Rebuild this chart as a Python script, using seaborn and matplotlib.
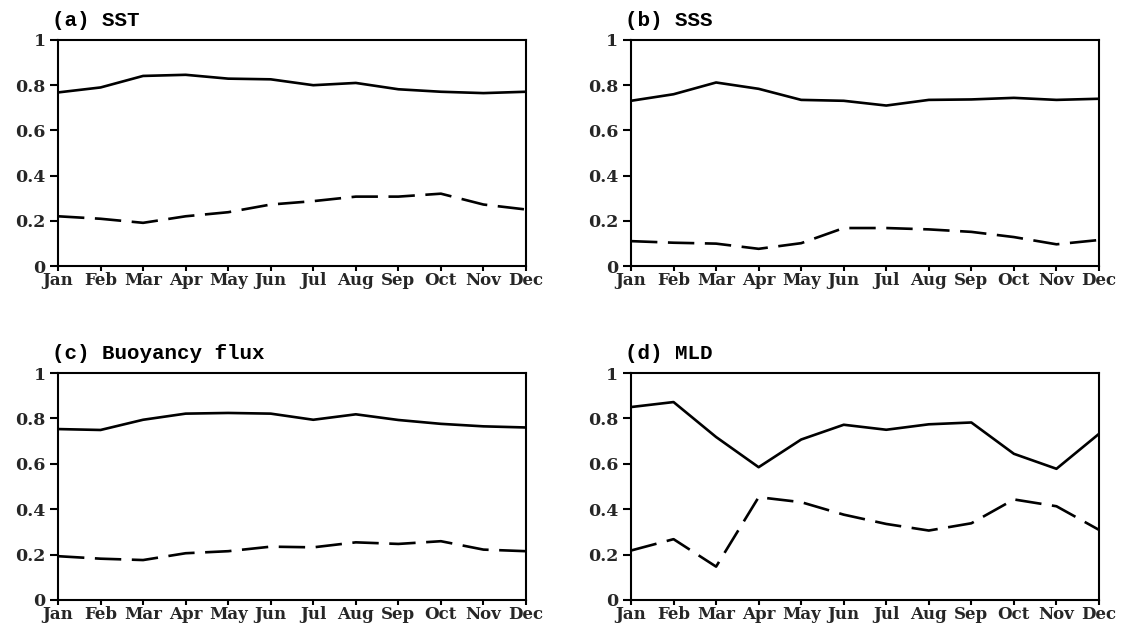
import matplotlib
matplotlib.use("Agg")
import matplotlib.pyplot as plt
import seaborn as sns
import pandas as pd

months = ["Jan", "Feb", "Mar", "Apr", "May", "Jun", "Jul", "Aug", "Sep", "Oct", "Nov", "Dec"]

titles = ["(a) SST", "(b) SSS", "(c) Buoyancy flux", "(d) MLD"]

sst_solid = [0.768, 0.790, 0.841, 0.846, 0.829, 0.826, 0.800, 0.810, 0.782, 0.771, 0.765, 0.771]
sst_dash = [0.220, 0.209, 0.191, 0.220, 0.238, 0.272, 0.287, 0.307, 0.307, 0.320, 0.272, 0.250]

sss_solid = [0.731, 0.760, 0.812, 0.784, 0.735, 0.731, 0.710, 0.735, 0.737, 0.744, 0.735, 0.740]
sss_dash = [0.110, 0.103, 0.099, 0.076, 0.101, 0.168, 0.168, 0.162, 0.151, 0.128, 0.096, 0.115]

buoy_solid = [0.753, 0.749, 0.794, 0.821, 0.824, 0.821, 0.794, 0.818, 0.793, 0.776, 0.765, 0.760]
buoy_dash = [0.193, 0.182, 0.176, 0.206, 0.215, 0.235, 0.232, 0.254, 0.247, 0.259, 0.222, 0.215]

mld_solid = [0.850, 0.872, 0.718, 0.585, 0.707, 0.772, 0.750, 0.774, 0.782, 0.644, 0.578, 0.732]
mld_dash = [0.218, 0.268, 0.147, 0.453, 0.431, 0.376, 0.335, 0.306, 0.338, 0.443, 0.413, 0.309]

yticks = [0, 0.2, 0.4, 0.6, 0.8, 1]
ytick_labels = ["0", "0.2", "0.4", "0.6", "0.8", "1"]

panels = [
    (sst_solid, sst_dash),
    (sss_solid, sss_dash),
    (buoy_solid, buoy_dash),
    (mld_solid, mld_dash),
]

sns.set_style("ticks")
plt.rcParams["font.family"] = ["DejaVu Serif"]

W, H = 1121, 627
fig = plt.figure(figsize=(W / 100, H / 100), dpi=100)

# axes boxes in pixels: (left, top, right, bottom)
boxes = [
    (58, 40, 526, 266),
    (631, 40, 1099, 266),
    (58, 373, 526, 600),
    (631, 373, 1099, 600),
]

for (solid, dash), title, (l, t, r, b) in zip(panels, titles, boxes):
    ax = fig.add_axes([l / W, 1 - b / H, (r - l) / W, (b - t) / H])
    df = pd.DataFrame({
        "month": list(range(12)) * 2,
        "value": list(solid) + list(dash),
        "series": ["solid"] * 12 + ["dash"] * 12,
    })
    sns.lineplot(data=df, x="month", y="value", style="series",
                 dashes={"solid": "", "dash": (10, 4)},
                 color="black", linewidth=1.9, legend=False, ax=ax)
    ax.set_xlim(0, 11)
    ax.set_ylim(0, 1)
    ax.set_xticks(range(12))
    ax.set_xticklabels(months, fontsize=12, fontweight="bold")
    ax.set_yticks(yticks)
    ax.set_yticklabels(ytick_labels, fontsize=12.5, fontweight="bold")
    ax.set_xlabel("")
    ax.set_ylabel("")
    ax.tick_params(axis="x", direction="out", length=3.5, width=1.5, pad=0.5, color="black")
    ax.tick_params(axis="y", direction="out", length=6, width=1.5, pad=3, color="black")
    for sp in ax.spines.values():
        sp.set_visible(True)
        sp.set_linewidth(1.5)
        sp.set_color("black")
    ax.text(-0.012, 1.045, title, transform=ax.transAxes, fontsize=15,
            family=["Liberation Mono", "DejaVu Sans Mono"], fontweight="bold",
            ha="left", va="bottom", color="black")

fig.savefig("out.png", dpi=100)
